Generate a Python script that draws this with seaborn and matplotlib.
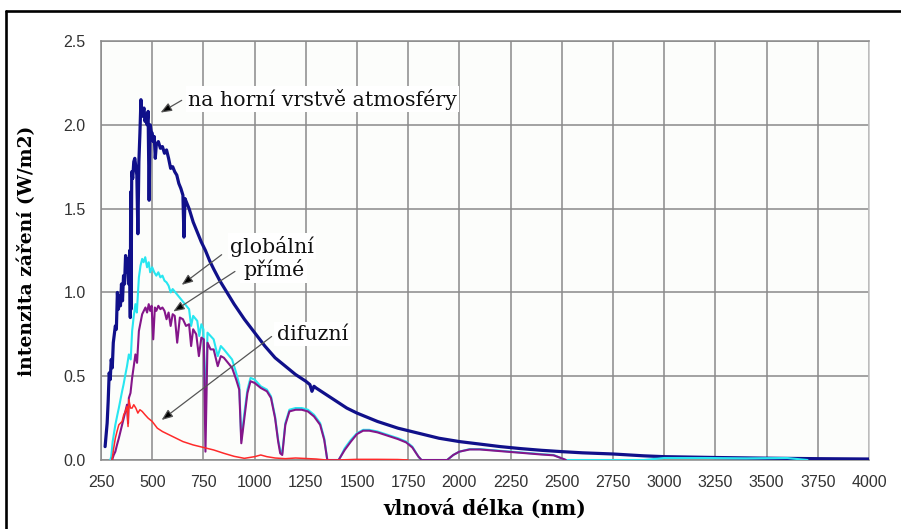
import matplotlib
matplotlib.use("Agg")
import matplotlib.pyplot as plt
from matplotlib.lines import Line2D
import seaborn as sns

# Spectral irradiance, W/m2 per nm, against wavelength in nm
etr_nm = [270, 280, 285, 290, 295, 300, 305, 310, 315, 320, 325, 330, 335, 340, 345,
          350, 355, 360, 365, 370, 375, 380, 385, 390, 393, 395, 397, 400, 405, 410,
          415, 420, 425, 430, 435, 440, 445, 450, 455, 460, 465, 470, 475, 480, 485,
          490, 495, 500, 505, 510, 515, 520, 530, 540, 550, 560, 570, 580, 590, 600,
          610, 620, 630, 640, 650, 655, 660, 670, 680, 690, 700, 720, 740, 760, 780,
          800, 830, 860, 900, 950, 1000, 1050, 1100, 1150, 1200, 1250, 1270, 1280, 1290,
          1300, 1350, 1400, 1450, 1500, 1600, 1700, 1800, 1900, 2000, 2100, 2200, 2300,
          2400, 2500, 2600, 2750, 2900, 3000, 3250, 3500, 3750, 4000]
etr_val = [0.08, 0.22, 0.35, 0.52, 0.48, 0.60, 0.55, 0.70, 0.75, 0.80, 0.78, 1.00, 0.90, 0.98, 0.92,
           1.05, 0.95, 1.10, 1.05, 1.22, 1.12, 1.20, 1.05, 1.25, 0.85, 1.60, 0.90, 1.72, 1.68, 1.78,
           1.80, 1.75, 1.70, 1.35, 1.78, 1.95, 2.15, 2.05, 2.08, 2.10, 2.02, 2.06, 2.00, 2.08, 1.55,
           2.00, 1.96, 1.95, 1.90, 1.93, 1.80, 1.88, 1.90, 1.86, 1.87, 1.83, 1.85, 1.80, 1.74, 1.75,
           1.72, 1.70, 1.65, 1.62, 1.58, 1.33, 1.56, 1.53, 1.50, 1.46, 1.42, 1.36, 1.30, 1.25, 1.19,
           1.14, 1.07, 1.01, 0.93, 0.84, 0.76, 0.68, 0.61, 0.56, 0.51, 0.47, 0.45, 0.41, 0.44,
           0.43, 0.39, 0.35, 0.31, 0.28, 0.23, 0.19, 0.16, 0.13, 0.11, 0.095, 0.08, 0.068,
           0.058, 0.05, 0.043, 0.036, 0.025, 0.02, 0.015, 0.011, 0.008, 0.006]

glob_nm = [295, 300, 307, 320, 330, 337, 345, 353, 360, 369, 377, 386, 395, 402, 410,
           418, 425, 435, 443, 451, 458, 466, 475, 483, 490, 500, 510, 520, 530, 540,
           550, 560, 570, 580, 590, 600, 620, 640, 660, 680, 690, 700, 720, 730, 740,
           750, 760, 770, 800, 820, 835, 850, 870, 890, 910, 925, 935, 950, 965, 980,
           1000, 1030, 1060, 1080, 1100, 1115, 1125, 1135, 1150, 1170, 1200, 1230, 1260,
           1290, 1320, 1340, 1355, 1410, 1420, 1440, 1470, 1500, 1530, 1560, 1600, 1650,
           1700, 1740, 1770, 1800, 1815, 1940, 1970, 2000, 2050, 2100, 2150, 2200, 2300,
           2400, 2460, 2500, 2520, 2900, 2950, 3000, 3200, 3400, 3600, 3700]
glob_val = [0.00, 0.02, 0.11, 0.21, 0.27, 0.31, 0.36, 0.41, 0.45, 0.51, 0.56, 0.63, 0.60, 0.77, 0.86,
            0.93, 0.88, 1.09, 1.16, 1.20, 1.18, 1.21, 1.15, 1.18, 1.12, 1.15, 1.12, 1.10, 1.12, 1.09,
            1.10, 1.07, 1.06, 1.04, 1.00, 1.02, 0.99, 0.96, 0.93, 0.90, 0.80, 0.86, 0.83, 0.74, 0.81,
            0.78, 0.30, 0.76, 0.72, 0.62, 0.68, 0.66, 0.63, 0.60, 0.52, 0.45, 0.12, 0.28, 0.42, 0.49,
            0.48, 0.44, 0.42, 0.38, 0.26, 0.12, 0.06, 0.04, 0.22, 0.30, 0.31, 0.31, 0.30,
            0.27, 0.22, 0.13, 0.00, 0.00, 0.02, 0.07, 0.12, 0.16, 0.18, 0.18, 0.17, 0.15,
            0.13, 0.11, 0.08, 0.02, 0.00, 0.00, 0.03, 0.05, 0.065, 0.065, 0.06, 0.055, 0.045,
            0.035, 0.03, 0.01, 0.00, 0.00, 0.006, 0.012, 0.012, 0.010, 0.012, 0.00]

direct_nm = [304, 312, 320, 328, 337, 345, 353, 361, 369, 377, 382, 386, 394, 402, 410,
             418, 426, 435, 443, 451, 459, 467, 475, 483, 490, 497, 505, 513, 520, 530,
             540, 550, 560, 570, 580, 590, 600, 610, 622, 635, 650, 665, 680, 690, 700,
             715, 728, 740, 752, 760, 770, 785, 800, 820, 835, 850, 870, 890, 910, 925,
             935, 950, 965, 980, 1000, 1030, 1060, 1080, 1100, 1115, 1125, 1135, 1150, 1170,
             1200, 1230, 1260, 1290, 1320, 1340, 1355, 1410, 1420, 1440, 1470, 1500, 1530,
             1560, 1600, 1650, 1700, 1740, 1770, 1800, 1815, 1940, 1970, 2000, 2050, 2100,
             2150, 2200, 2300, 2400, 2460, 2500, 2520]
direct_val = [0.00, 0.03, 0.05, 0.09, 0.13, 0.17, 0.21, 0.25, 0.29, 0.33, 0.22, 0.37, 0.40, 0.49, 0.56,
              0.63, 0.58, 0.77, 0.82, 0.87, 0.89, 0.91, 0.88, 0.93, 0.89, 0.92, 0.72, 0.91, 0.89, 0.92,
              0.90, 0.91, 0.89, 0.84, 0.88, 0.80, 0.87, 0.86, 0.70, 0.85, 0.84, 0.80, 0.81, 0.68, 0.78,
              0.75, 0.62, 0.73, 0.72, 0.05, 0.70, 0.66, 0.66, 0.56, 0.62, 0.61, 0.58, 0.55, 0.48, 0.42,
              0.10, 0.25, 0.40, 0.47, 0.46, 0.43, 0.41, 0.37, 0.25, 0.11, 0.04, 0.03, 0.21, 0.29,
              0.30, 0.30, 0.29, 0.26, 0.21, 0.12, 0.00, 0.00, 0.02, 0.06, 0.11, 0.155, 0.175,
              0.175, 0.165, 0.145, 0.125, 0.105, 0.075, 0.02, 0.00, 0.00, 0.03, 0.05, 0.063, 0.063,
              0.058, 0.053, 0.043, 0.033, 0.028, 0.01, 0.00]

diffuse_nm = [304, 312, 320, 328, 337, 345, 353, 361, 369, 377, 382, 386, 394, 402, 410,
              420, 430, 440, 451, 465, 480, 500, 525, 550, 600, 650, 700, 750, 800, 850,
              900, 950, 1000, 1030, 1060, 1100, 1150, 1200, 1300, 1350, 1400, 1500, 1600,
              1700, 1750]
diffuse_val = [0.00, 0.07, 0.13, 0.17, 0.21, 0.22, 0.23, 0.27, 0.29, 0.32, 0.20, 0.36, 0.31, 0.31, 0.33,
               0.31, 0.28, 0.30, 0.29, 0.27, 0.25, 0.23, 0.19, 0.17, 0.14, 0.11, 0.09, 0.075, 0.06, 0.04,
               0.022, 0.01, 0.02, 0.03, 0.02, 0.012, 0.008, 0.012, 0.006, 0.00, 0.00, 0.004, 0.004,
               0.003, 0.00]

x_ticks = list(range(250, 4001, 250))
x_tick_labels = [str(v) for v in x_ticks]
y_ticks = [0.0, 0.5, 1.0, 1.5, 2.0, 2.5]
y_tick_labels = ["0.0", "0.5", "1.0", "1.5", "2.0", "2.5"]

sns.set_theme(style="whitegrid")
plt.rcParams["font.family"] = ["Liberation Sans", "DejaVu Sans"]

fig = plt.figure(figsize=(9.01, 5.29), dpi=100)
fig.patch.set_facecolor("white")
ax = fig.add_axes([0.1121, 0.1304, 0.9645 - 0.1121, 0.9225 - 0.1304])
ax.set_facecolor("#fcfdfb")

sns.lineplot(x=etr_nm, y=etr_val, ax=ax, color="#10108a", linewidth=2.3,
             estimator=None, sort=False, zorder=3)
sns.lineplot(x=glob_nm, y=glob_val, ax=ax, color="#27e6f0", linewidth=1.5,
             estimator=None, sort=False, zorder=4)
sns.lineplot(x=direct_nm, y=direct_val, ax=ax, color="#84168a", linewidth=1.5,
             estimator=None, sort=False, zorder=5)
sns.lineplot(x=diffuse_nm, y=diffuse_val, ax=ax, color="#ff2a2a", linewidth=1.1,
             estimator=None, sort=False, zorder=6)

ax.set_xlim(250, 4000)
ax.set_ylim(0, 2.5)
ax.set_xticks(x_ticks)
ax.set_xticklabels(x_tick_labels)
ax.set_yticks(y_ticks)
ax.set_yticklabels(y_tick_labels)
ax.tick_params(axis="both", length=0, labelsize=11.5, labelcolor="#333333")
ax.tick_params(axis="x", pad=11)
ax.tick_params(axis="y", pad=11)
ax.grid(True, color="#8a8a8a", linewidth=1.1)
for side, col in [("left", "#8a8a8a"), ("bottom", "#8a8a8a"),
                  ("top", "#8a8a8a"), ("right", "#c4c4c4")]:
    ax.spines[side].set_visible(True)
    ax.spines[side].set_color(col)
    ax.spines[side].set_linewidth(1.1)

ax.set_xlabel("vlnová délka (nm)", family=["DejaVu Serif"], fontweight="bold",
              fontsize=14.5, color="black", labelpad=6)
ax.set_ylabel("intenzita záření (W/m2)", family=["DejaVu Serif"], fontweight="bold",
              fontsize=13.5, color="black", labelpad=20)

# Series labels with pointer arrows
labels = [
    ("na horní vrstvě atmosféry", (675, 2.115), (644, 2.146), (541, 2.073)),
    ("globální", (880, 1.238), (839, 1.225), (644, 1.045)),
    ("přímé", (943, 1.095), (904, 1.125), (603, 0.886)),
    ("difuzní", (1109, 0.717), (1083, 0.737), (546, 0.239)),
]
for text, tpos, tail, tip in labels:
    ax.text(tpos[0], tpos[1], text, family=["DejaVu Serif"], fontsize=14.8,
            color="#111111", ha="left", va="baseline", zorder=8,
            bbox=dict(boxstyle="square,pad=0.12", fc="white", ec="none"))
    ax.annotate("", xy=tip, xytext=tail, zorder=9,
                arrowprops=dict(arrowstyle="-|>,head_length=0.55,head_width=0.22",
                                fc="black", ec="#555555", lw=0.9,
                                shrinkA=0, shrinkB=0))

# Frame around the picture (top and left edges)
fig.add_artist(Line2D([6 / 901, 1.0], [1 - 11 / 529, 1 - 11 / 529],
                      color="black", linewidth=1.9, transform=fig.transFigure))
fig.add_artist(Line2D([6 / 901, 6 / 901], [0.0, 1 - 11 / 529],
                      color="black", linewidth=1.9, transform=fig.transFigure))

fig.savefig("out.png", dpi=100)
